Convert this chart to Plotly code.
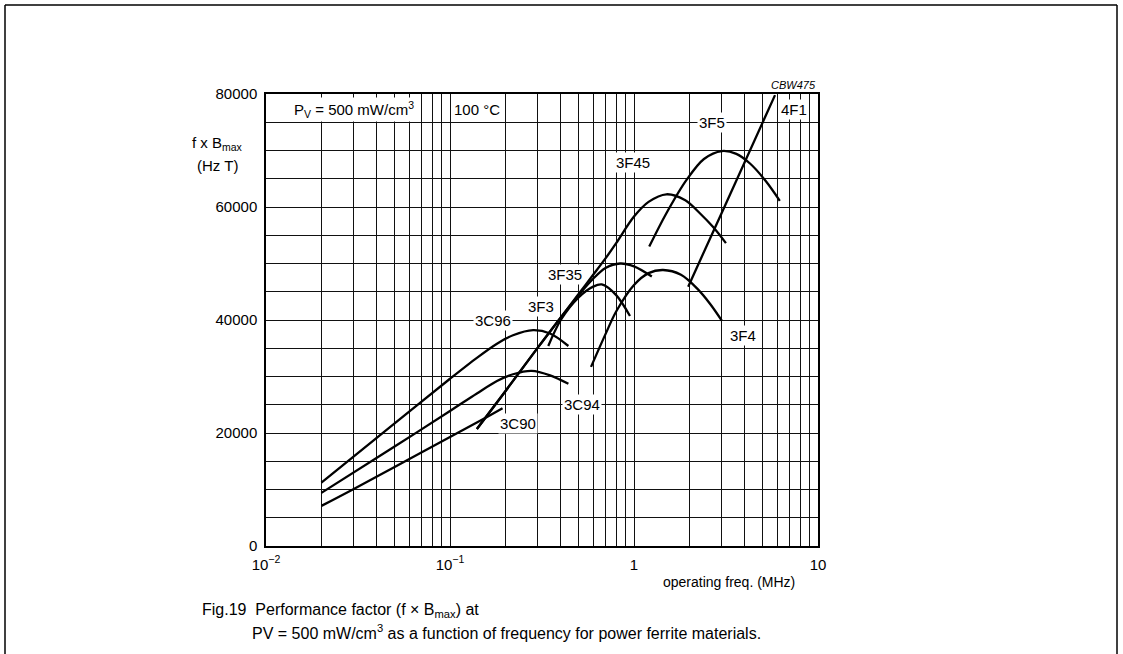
import plotly.graph_objects as go

# ---------------- data ----------------
freq_3C90 = [0.02, 0.03, 0.05, 0.1, 0.15, 0.193]
fb_3C90 = [7100, 10100, 14000, 19300, 22400, 24400]

freq_3C94 = [0.02, 0.05, 0.1, 0.14, 0.18, 0.22, 0.278, 0.35, 0.44]
fb_3C94 = [9400, 17600, 23900, 27000, 29200, 30400, 31000, 30200, 28700]

freq_3C96 = [0.02, 0.05, 0.1, 0.14, 0.18, 0.22, 0.283, 0.35, 0.44]
fb_3C96 = [11200, 21700, 29600, 33300, 35800, 37300, 38200, 37600, 35400]

freq_3F3 = [0.342, 0.4, 0.5, 0.6, 0.668, 0.8, 0.951]
fb_3F3 = [35400, 40000, 44000, 45900, 46300, 44400, 40700]

freq_3F35 = [0.14, 0.2, 0.3, 0.4, 0.5, 0.6, 0.7, 0.84, 1.0, 1.25]
fb_3F35 = [20700, 27400, 35100, 40450, 44400, 47300, 49200, 50000, 49500, 47700]

freq_3F45 = [0.14, 0.2, 0.3, 0.4, 0.5, 0.6, 0.7, 0.8, 1.0, 1.2, 1.5, 1.9, 2.28, 2.7, 3.16]
fb_3F45 = [20700, 27400, 35100, 40450, 44600, 48000, 50900, 53600, 58300, 60900, 62250, 61200, 58900, 56400, 53600]

freq_3F4 = [0.584, 0.7, 0.8, 1.0, 1.2, 1.44, 1.8, 2.2, 2.6, 3.0]
fb_3F4 = [31700, 37500, 41500, 46200, 48300, 48850, 48000, 45600, 42800, 39900]

freq_3F5 = [1.21, 1.5, 1.93, 2.4, 3.0, 3.6, 4.27, 5.2, 6.2]
fb_3F5 = [53000, 58900, 64800, 68500, 69900, 69400, 67700, 64600, 61100]

freq_4F1 = [1.97, 3.0, 5.84]
fb_4F1 = [45900, 59000, 79800]

material_names = ["3C90", "3C94", "3C96", "3F3", "3F35", "3F45", "3F4", "3F5", "4F1"]

x_tick_vals = [d * 10.0 ** e for e in (-2, -1, 0) for d in range(1, 10)] + [10.0]
x_major_text = {0.01: "10<sup>\u22122</sup>", 0.1: "10<sup>\u22121</sup>", 1.0: "1", 10.0: "10"}
y_tick_vals = list(range(0, 80001, 5000))
y_major_labels = [0, 20000, 40000, 60000, 80000]

# ---------------- figure ----------------
series = [
    (freq_3C90, fb_3C90), (freq_3C94, fb_3C94), (freq_3C96, fb_3C96),
    (freq_3F3, fb_3F3), (freq_3F35, fb_3F35), (freq_3F45, fb_3F45),
    (freq_3F4, fb_3F4), (freq_3F5, fb_3F5), (freq_4F1, fb_4F1),
]

FONT = "Liberation Sans, Arial, sans-serif"
fig = go.Figure()
for name, (f, v) in zip(material_names, series):
    fig.add_trace(go.Scatter(
        x=f, y=v, mode="lines", name=name, showlegend=False, hoverinfo="skip",
        line=dict(color="black", width=2.3, shape="spline", smoothing=0.9),
    ))

x_tick_text = []
for t in x_tick_vals:
    lab = ""
    for k, s in x_major_text.items():
        if abs(t - k) < 1e-9:
            lab = s
    x_tick_text.append(lab)
y_tick_text = [str(v) if v in y_major_labels else "" for v in y_tick_vals]

fig.update_layout(
    width=1123, height=654,
    margin=dict(l=266, r=305, t=94, b=108),
    paper_bgcolor="white", plot_bgcolor="white",
    font=dict(family=FONT, size=15, color="black"),
    xaxis=dict(
        type="log", range=[-2, 1], tickvals=x_tick_vals, ticktext=x_tick_text,
        showgrid=True, gridcolor="#111", gridwidth=1, ticks="",
        showline=True, linecolor="black", linewidth=1.5, mirror=True,
        zeroline=False, ticklabelstandoff=4,
        tickfont=dict(family=FONT, size=15),
    ),
    yaxis=dict(
        range=[0, 80000], tickvals=y_tick_vals, ticktext=y_tick_text,
        showgrid=True, gridcolor="#111", gridwidth=1, ticks="",
        showline=True, linecolor="black", linewidth=1.5, mirror=True,
        zeroline=False, ticklabelstandoff=4,
        tickfont=dict(family=FONT, size=15),
    ),
)

# curve labels (position: log10 f, value)
label_pos = {
    "3C96": (-0.766, 40000), "3F3": (-0.505, 42400), "3F35": (-0.375, 48000),
    "3C94": (-0.283, 25000), "3C90": (-0.630, 21600), "3F4": (0.592, 37200),
    "3F45": (-0.005, 67800), "3F5": (0.424, 75000), "4F1": (0.870, 77300),
}
for name in material_names:
    lx, ly = label_pos[name]
    fig.add_annotation(x=lx, y=ly, xref="x", yref="y", text=name, showarrow=False,
                       xanchor="center", yanchor="middle",
                       bgcolor="white", borderpad=1,
                       font=dict(family=FONT, size=15, color="black"))


def px2paper_x(px):
    return (px - 266) / 552.0


def py2paper_y(py):
    return (546 - py) / 452.0


annos = [
    dict(x=-1.5217, y=77170, xref="x", yref="y", xanchor="center",
         text="P<sub>V</sub> = 500 mW/cm<sup>3</sup>", bgcolor="white"),
    dict(x=-0.8533, y=77170, xref="x", yref="y", xanchor="center",
         text="100 \u00b0C", bgcolor="white"),
    dict(x=1.0, y=py2paper_y(85), xref="paper", yref="paper", xanchor="right",
         text="<i>CBW475</i>", font=dict(family=FONT, size=11, color="black")),
    dict(x=px2paper_x(217), y=py2paper_y(143), xref="paper", yref="paper", xanchor="center",
         text="f x B<sub>max</sub>"),
    dict(x=px2paper_x(217), y=py2paper_y(165), xref="paper", yref="paper", xanchor="center",
         text="(Hz T)"),
    dict(x=px2paper_x(797), y=py2paper_y(582), xref="paper", yref="paper", xanchor="right",
         text="operating freq. (MHz)", font=dict(family=FONT, size=14, color="black")),
    dict(x=px2paper_x(200), y=py2paper_y(610), xref="paper", yref="paper", xanchor="left",
         text="Fig.19  Performance factor (f \u00d7 B<sub>max</sub>) at",
         font=dict(family=FONT, size=16, color="black")),
    dict(x=px2paper_x(250), y=py2paper_y(632), xref="paper", yref="paper", xanchor="left",
         text="PV = 500 mW/cm<sup>3</sup> as a function of frequency for power ferrite materials.",
         font=dict(family=FONT, size=16, color="black")),
]
for a in annos:
    a.setdefault("showarrow", False)
    a.setdefault("yanchor", "middle")
    a.setdefault("font", dict(family=FONT, size=15, color="black"))
    fig.add_annotation(**a)

# outer frame
for (x0, y0, x1, y1) in [(5, 5, 1117, 5), (5, 5, 5, 660), (1117, 5, 1117, 660)]:
    fig.add_shape(type="line", xref="paper", yref="paper",
                  x0=px2paper_x(x0), y0=py2paper_y(y0), x1=px2paper_x(x1), y1=py2paper_y(y1),
                  line=dict(color="black", width=1.5))

fig.write_html(
    "out.html",
    config={"displayModeBar": False},
    post_script="document.body.style.margin='0px';document.body.style.overflow='hidden';",
)
